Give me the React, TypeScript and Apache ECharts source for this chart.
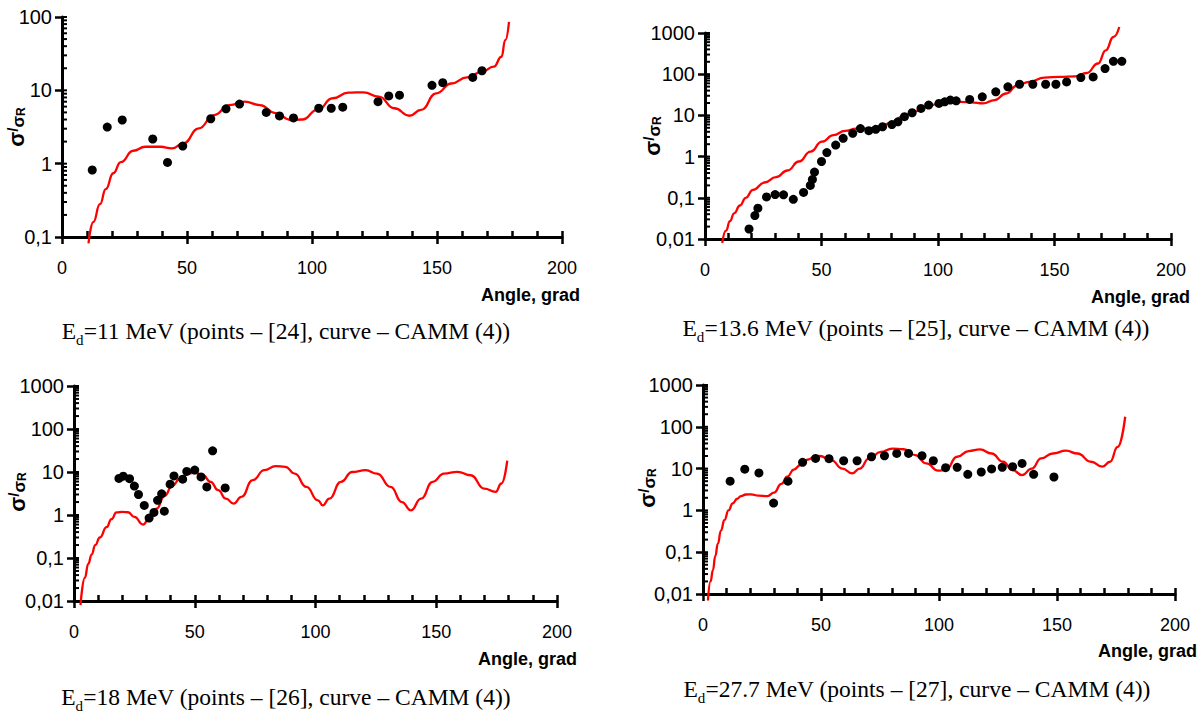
import React, { useEffect, useRef } from "react";
import * as echarts from "echarts";

// ---------- data ----------
const X_MIN = 0;
const X_MAX = 200;
const X_STEP = 50;
const Y_RANGE_P1 = [0.1, 100];
const Y_RANGE_WIDE = [0.01, 1000];
const MINOR_MULTIPLIERS = [1, 2, 3, 4, 5, 6, 7, 8, 9];
const DECADES_P1 = [0.1, 1, 10, 100];
const DECADES_WIDE = [0.01, 0.1, 1, 10, 100, 1000];

const P1_POINTS = [
  [12.1, 0.82], [18.1, 3.16], [24.1, 3.94], [36.3, 2.17], [42.2, 1.04], [48.3, 1.74],
  [59.5, 4.1], [65.6, 5.6], [71.0, 6.5], [81.7, 5.0], [87.0, 4.47], [92.6, 4.2],
  [102.7, 5.7], [107.7, 5.7], [112.3, 5.9], [126.4, 7.0], [130.7, 8.4], [135.0, 8.6],
  [148.0, 11.7], [152.3, 12.7], [164.3, 15.0], [168.0, 18.5],
];
const P1_CURVE = [
  [10.6, 0.082], [12.5, 0.16], [15.2, 0.28], [17.5, 0.45], [20.5, 0.74], [23.5, 1.05],
  [28.5, 1.5], [33.3, 1.7], [39.4, 1.7], [44.0, 1.62], [48.6, 1.9], [54.7, 3.03],
  [60.8, 4.6], [67.0, 6.3], [73.1, 7.0], [79.2, 6.3], [85.4, 4.9], [91.5, 3.94],
  [96.1, 4.0], [102.2, 5.4], [108.3, 7.8], [114.5, 9.3], [120.6, 9.4], [126.7, 8.2],
  [132.9, 5.7], [139.0, 4.5], [143.6, 5.4], [149.7, 9.1], [155.8, 12.4], [162.0, 15],
  [168.1, 18], [172.7, 21], [175.8, 28.7], [177.3, 48.5], [178.8, 86],
];

const P2_POINTS = [
  [18.9, 0.0175], [21.4, 0.037], [22.7, 0.056], [26.4, 0.105], [30.1, 0.12], [33.7, 0.118],
  [37.9, 0.092], [42.3, 0.135], [45.2, 0.2], [46.1, 0.28], [47.0, 0.42], [50.0, 0.76],
  [52.3, 1.25], [56.1, 1.9], [59.3, 2.78], [63.4, 3.67], [66.7, 4.8], [70.3, 4.26],
  [73.3, 4.6], [76.2, 5.3], [80.2, 6.0], [82.8, 7.0], [85.6, 9.3], [88.9, 11.6],
  [92.7, 14.8], [96.0, 17.8], [100.4, 19.5], [102.9, 21.4], [105.3, 23.5], [107.8, 22.6],
  [113.6, 24.4], [119.0, 28.2], [124.8, 37.3], [130.0, 49.5], [135.0, 57], [140.7, 57],
  [146.2, 57], [150.6, 57], [155.2, 65], [161.3, 83], [166.6, 86], [171.7, 137],
  [175.3, 205], [178.9, 205],
];
const P2_CURVE = [
  [7.4, 0.008], [9.0, 0.016], [10.7, 0.027], [12.5, 0.042], [15.0, 0.065], [17.5, 0.1],
  [20.6, 0.156], [25.5, 0.235], [30.5, 0.316], [35.4, 0.46], [40.3, 0.76], [45.3, 1.32],
  [50.2, 2.3], [55.1, 3.33], [60.1, 4.2], [65.0, 4.8], [70.0, 4.8], [74.9, 5.3],
  [79.8, 6.6], [84.8, 9.3], [89.7, 12.3], [94.7, 15.6], [99.6, 18.7], [104.5, 21.4],
  [109.5, 21.4], [114.4, 20.6], [119.3, 19.5], [124.3, 23.5], [129.2, 34], [134.2, 54],
  [139.1, 65], [145.7, 83], [152.3, 86], [158.8, 89], [163.8, 107], [168.7, 182],
  [172.0, 380], [175.3, 800], [177.8, 1400],
];

const P3_POINTS = [
  [18.6, 7.1], [20.4, 8.0], [23.0, 7.0], [25.0, 4.7], [26.7, 3.0], [29.1, 1.67],
  [31.1, 0.85], [33.1, 1.15], [34.6, 2.2], [36.3, 3.1], [37.4, 1.23], [39.8, 5.2],
  [41.4, 8.1], [45.0, 6.8], [46.7, 10.3], [50.0, 11.1], [52.6, 7.7], [55.0, 4.5],
  [57.4, 31], [62.6, 4.27],
];
const P3_CURVE = [
  [2.7, 0.008], [4.5, 0.035], [5.9, 0.073], [7.3, 0.12], [8.8, 0.2], [10.7, 0.3],
  [13.5, 0.52], [15.5, 0.8], [17.6, 1.15], [20.1, 1.18], [22.4, 1.16], [25.0, 0.9],
  [28.6, 0.6], [31.2, 0.85], [34.2, 1.4], [37.5, 2.8], [40.7, 4.8], [43.9, 7.0],
  [47.1, 9.2], [50.2, 9.6], [53.4, 8.4], [56.6, 5.9], [59.7, 3.77], [62.9, 2.4],
  [66.1, 1.84], [69.3, 2.63], [74.0, 6.45], [78.8, 11], [83.5, 13.7], [87.5, 13.2],
  [91.4, 9.2], [96.2, 4.5], [101.0, 2.2], [103.0, 1.68], [105.7, 2.4], [110.5, 5.9],
  [115.2, 10], [120.8, 11], [125.5, 9.2], [131.1, 4.5], [135.8, 2.0], [139.5, 1.28],
  [143.7, 2.4], [148.5, 5.9], [153.2, 9.2], [158.8, 10.1], [164.3, 8.4], [169.9, 4.1],
  [174.6, 3.45], [177.0, 5.4], [179.4, 18.3],
];

const P4_POINTS = [
  [11.5, 5.0], [17.7, 9.7], [23.7, 7.9], [29.9, 1.5], [36.0, 5.0], [42.2, 14.1],
  [47.7, 17.5], [53.4, 17.3], [59.6, 15.4], [65.3, 15.4], [71.4, 19.2], [76.9, 20.3],
  [82.1, 23.1], [87.1, 23.1], [92.8, 20.3], [97.6, 15.4], [102.8, 10.5], [107.7, 10.7],
  [112.2, 7.3], [117.9, 8.3], [122.3, 9.8], [126.8, 10.7], [131.2, 11.1], [135.2, 13.3],
  [140.1, 7.3], [148.7, 6.3],
];
const P4_CURVE = [
  [2.1, 0.007], [3.2, 0.02], [4.2, 0.037], [5.2, 0.08], [6.3, 0.16], [7.6, 0.33],
  [9.1, 0.59], [10.8, 1.0], [12.6, 1.48], [14.5, 1.9], [16.1, 2.2], [18.2, 2.4],
  [20.3, 2.43], [23.5, 2.25], [27.3, 2.2], [30.1, 2.65], [33.2, 4.3], [35.7, 6.4],
  [38.5, 9.5], [41.3, 12.2], [44.5, 16.5], [46.9, 18.6], [49.4, 20], [54.3, 16],
  [59.1, 10], [63.2, 7.7], [66.4, 10], [70.4, 17.5], [75.3, 25], [80.2, 30],
  [85.0, 29], [89.9, 21], [94.7, 13.3], [99.6, 8.9], [102.8, 9.2], [107.7, 19.2],
  [112.6, 26.3], [117.4, 28.8], [122.3, 23], [127.1, 14.6], [131.2, 9.2], [135.2, 7.0],
  [139.3, 10], [143.3, 17.5], [148.2, 23], [153.8, 26.8], [158.7, 23], [164.4, 14.6],
  [169.2, 11.1], [172.5, 14.6], [175.7, 33], [178.9, 174],
];

const CAPTION_TEXTS = [
  "=11 MeV (points – [24], curve – CAMM (4))",
  "=13.6 MeV (points – [25], curve – CAMM (4))",
  "=18 MeV (points – [26], curve – CAMM (4))",
  "=27.7 MeV (points – [27], curve – CAMM (4))",
];
const X_NAME = "Angle, grad";

// ---------- layout ----------
const GRID_BOXES = [
  { left: 62, top: 17, width: 500, height: 220 },
  { left: 705, top: 33, width: 466, height: 206 },
  { left: 74, top: 386, width: 483, height: 215 },
  { left: 703, top: 385, width: 472, height: 209 },
];
const Y_NAME_POS = [[16, 127], [652, 136], [17, 492], [647, 488]];
const X_NAME_POS = [[580, 295], [1190, 297], [577, 659], [1197, 651]];
const CAPTION_POS = [[286, 333], [916, 330], [286, 699], [917, 691]];

const PANELS = [
  { points: P1_POINTS, curve: P1_CURVE, range: Y_RANGE_P1, decades: DECADES_P1 },
  { points: P2_POINTS, curve: P2_CURVE, range: Y_RANGE_WIDE, decades: DECADES_WIDE },
  { points: P3_POINTS, curve: P3_CURVE, range: Y_RANGE_WIDE, decades: DECADES_WIDE },
  { points: P4_POINTS, curve: P4_CURVE, range: Y_RANGE_WIDE, decades: DECADES_WIDE },
];

const SANS = "Liberation Sans, Arial, sans-serif";
const SERIF = "Liberation Serif, Times New Roman, serif";
const axisLineStyle = () => ({ color: "#000", width: 3 });
const tickLineStyle = () => ({ color: "#000", width: 2.5 });

function fmtY(v: number): string {
  return String(Number(v.toPrecision(6))).replace(".", ",");
}

function buildOption() {
  const xAxis: any[] = [];
  const yAxis: any[] = [];
  const series: any[] = [];
  const graphic: any[] = [];

  PANELS.forEach((p, i) => {
    xAxis.push({
      type: "value", gridIndex: i, min: X_MIN, max: X_MAX, interval: X_STEP, position: "bottom",
      axisLine: { show: true, onZero: false, lineStyle: axisLineStyle() },
      axisTick: { show: true, inside: false, length: 7, lineStyle: tickLineStyle() },
      axisLabel: { show: true, margin: 22, fontFamily: SANS, fontSize: 18, color: "#000" },
      splitLine: { show: false },
    });
    xAxis.push({
      type: "value", gridIndex: i, min: X_MIN, max: X_MAX, interval: X_STEP, position: "bottom",
      axisLine: { show: false, onZero: false },
      axisTick: { show: true, inside: true, length: 6, lineStyle: tickLineStyle() },
      minorTick: { show: true, splitNumber: 5, length: 6, lineStyle: tickLineStyle() },
      axisLabel: { show: false },
      splitLine: { show: false },
    });
    yAxis.push({
      type: "log", logBase: 10, gridIndex: i, min: p.range[0], max: p.range[1], position: "left",
      axisLine: { show: true, onZero: false, lineStyle: axisLineStyle() },
      axisTick: { show: true, inside: false, length: 7, lineStyle: tickLineStyle() },
      axisLabel: { show: true, margin: 10, fontFamily: SANS, fontSize: 20, color: "#000", formatter: fmtY },
      splitLine: { show: false },
    });

    // inner (right-hand) y ticks at each decade and at its 2..9 multiples
    const innerTicks: number[][] = [];
    p.decades.forEach((d) =>
      MINOR_MULTIPLIERS.forEach((m) => {
        const v = d * m;
        if (v <= p.range[1] * 1.0001) innerTicks.push([X_MIN, v]);
      })
    );

    series.push({
      type: "custom", xAxisIndex: 2 * i, yAxisIndex: i, z: 1,
      data: innerTicks,
      renderItem: (params: any, api: any) => {
        const pt = api.coord([api.value(0), api.value(1)]);
        return {
          type: "line",
          shape: { x1: pt[0], y1: pt[1], x2: pt[0] + 5, y2: pt[1] },
          style: { stroke: "#000", lineWidth: 2 },
        };
      },
    });
    series.push({
      type: "line", xAxisIndex: 2 * i, yAxisIndex: i, data: p.curve,
      symbol: "none", showSymbol: false, smooth: 0.5, smoothMonotone: "x", clip: false,
      lineStyle: { color: "#ff0000", width: 2.3 }, z: 2,
    });
    series.push({
      type: "scatter", xAxisIndex: 2 * i, yAxisIndex: i, data: p.points,
      symbol: "circle", symbolSize: 9, itemStyle: { color: "#000", opacity: 1 }, z: 3,
    });

    graphic.push({
      type: "text", x: Y_NAME_POS[i][0], y: Y_NAME_POS[i][1], rotation: Math.PI / 2,
      style: {
        text: "{a|σ}{b|/}{a2|σ}{c|R}",
        align: "center", verticalAlign: "middle",
        fill: "#000",
        rich: {
          a: { fontFamily: SANS, fontWeight: "bold", fontSize: 22, fill: "#000", verticalAlign: "bottom" },
          b: { fontFamily: SANS, fontWeight: "bold", fontSize: 15, fill: "#000", verticalAlign: "top" },
          a2: { fontFamily: SANS, fontWeight: "bold", fontSize: 17, fill: "#000", verticalAlign: "bottom" },
          c: { fontFamily: SANS, fontWeight: "bold", fontSize: 12, fill: "#000", verticalAlign: "bottom" },
        },
      },
    });
    graphic.push({
      type: "text", x: X_NAME_POS[i][0], y: X_NAME_POS[i][1],
      style: {
        text: X_NAME, fontFamily: SANS, fontWeight: "bold", fontSize: 18, fill: "#000",
        align: "right", verticalAlign: "middle",
      },
    });
    graphic.push({
      type: "text", x: CAPTION_POS[i][0], y: CAPTION_POS[i][1],
      style: {
        text: "{e|E}{d|d}{t|" + CAPTION_TEXTS[i] + "}",
        align: "center", verticalAlign: "middle",
        fill: "#000",
        rich: {
          e: { fontFamily: SERIF, fontSize: 23.5, fill: "#000", padding: [0, 0, 4, 0], verticalAlign: "bottom" },
          d: { fontFamily: SERIF, fontSize: 15, fill: "#000", verticalAlign: "bottom" },
          t: { fontFamily: SERIF, fontSize: 23.5, fill: "#000", padding: [0, 0, 4, 0], verticalAlign: "bottom" },
        },
      },
    });
  });

  return {
    animation: false,
    backgroundColor: "#ffffff",
    grid: GRID_BOXES,
    xAxis,
    yAxis,
    series,
    graphic,
  };
}

export default function App() {
  const ref = useRef<HTMLDivElement>(null);
  useEffect(() => {
    document.body.style.margin = "0";
    const chart = echarts.init(ref.current as HTMLDivElement, null, { renderer: "svg" });
    chart.setOption(buildOption() as any);
    return () => chart.dispose();
  }, []);
  return (
    <div
      ref={ref}
      style={{ position: "absolute", left: 0, top: 0, width: 1201, height: 715, background: "#fff" }}
    />
  );
}
